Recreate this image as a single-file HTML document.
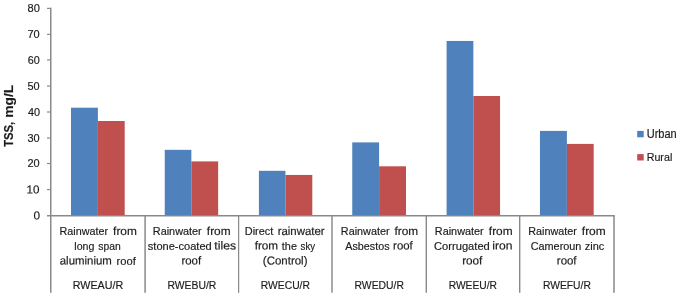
<!DOCTYPE html>
<html><head><meta charset="utf-8"><title>TSS chart</title>
<style>
html,body{margin:0;padding:0;background:#fff;}
svg{display:block;}
text{font-family:"Liberation Sans",sans-serif;fill:#1c1c1c;stroke:#1c1c1c;stroke-width:0.18px;}
</style></head><body>
<svg width="685" height="295" viewBox="0 0 685 295">
<rect width="685" height="295" fill="#fff"/>
<rect x="71.00" y="107.70" width="26.90" height="107.30" fill="#4F81BD"/>
<rect x="97.90" y="121.00" width="26.80" height="94.00" fill="#C0504D"/>
<rect x="164.75" y="149.85" width="26.60" height="65.15" fill="#4F81BD"/>
<rect x="191.35" y="161.40" width="26.80" height="53.60" fill="#C0504D"/>
<rect x="258.90" y="170.80" width="26.55" height="44.20" fill="#4F81BD"/>
<rect x="285.45" y="174.95" width="26.85" height="40.05" fill="#C0504D"/>
<rect x="352.25" y="142.40" width="26.85" height="72.60" fill="#4F81BD"/>
<rect x="379.10" y="166.30" width="26.90" height="48.70" fill="#C0504D"/>
<rect x="446.60" y="40.95" width="26.75" height="174.05" fill="#4F81BD"/>
<rect x="473.35" y="96.00" width="26.70" height="119.00" fill="#C0504D"/>
<rect x="539.95" y="130.90" width="26.95" height="84.10" fill="#4F81BD"/>
<rect x="566.90" y="143.90" width="26.80" height="71.10" fill="#C0504D"/>
<g stroke="#898989" stroke-width="1.5" fill="none">
<path d="M50.75 7.8V292.85"/>
<path d="M145.10 215.75V292.85" stroke-width="1.50"/>
<path d="M238.60 215.75V292.85" stroke-width="1.25"/>
<path d="M332.00 215.75V292.85" stroke-width="1.45"/>
<path d="M426.30 215.75V292.85" stroke-width="1.40"/>
<path d="M519.70 215.75V292.85" stroke-width="1.40"/>
<path d="M614.00 215.75V292.85" stroke-width="1.50"/>
<path d="M47 215.75H614.75"/>
<path d="M47 189.55H50.90" stroke-width="1.2"/>
<path d="M47 163.50H50.90" stroke-width="1.2"/>
<path d="M47 138.05H50.90" stroke-width="1.2"/>
<path d="M47 112.00H50.90" stroke-width="1.2"/>
<path d="M47 86.00H50.90" stroke-width="1.2"/>
<path d="M47 59.90H50.90" stroke-width="1.2"/>
<path d="M47 34.35H50.90" stroke-width="1.2"/>
<path d="M47 8.40H50.90" stroke-width="1.2"/>
</g>
<g font-size="13.7" font-weight="bold" fill="#000" stroke="#000" stroke-width="0.2">
<text transform="translate(13.1 146.75) rotate(-90)" textLength="25.00" lengthAdjust="spacingAndGlyphs">TSS,</text>
<text transform="translate(13.1 117.75) rotate(-90)" textLength="32.90" lengthAdjust="spacingAndGlyphs">mg/L</text>
</g>
<text transform="matrix(1 0.0005 0 1 59.49 235.10)" font-size="11.6" textLength="48.53" lengthAdjust="spacingAndGlyphs">Rainwater</text>
<text transform="matrix(1 0.0005 0 1 113.08 235.10)" font-size="11.6" textLength="23.75" lengthAdjust="spacingAndGlyphs">from</text>
<text transform="matrix(1 0.0005 0 1 74.31 249.50)" font-size="11.6" textLength="20.01" lengthAdjust="spacingAndGlyphs">long</text>
<text transform="matrix(1 0.0005 0 1 98.35 249.50)" font-size="11.6" textLength="22.41" lengthAdjust="spacingAndGlyphs">span</text>
<text transform="matrix(1 0.0005 0 1 59.75 264.50)" font-size="11.6" textLength="52.11" lengthAdjust="spacingAndGlyphs">aluminium</text>
<text transform="matrix(1 0.0005 0 1 116.59 264.50)" font-size="11.6" textLength="19.24" lengthAdjust="spacingAndGlyphs">roof</text>
<text transform="matrix(1 0.0005 0 1 72.79 288.50)" font-size="11.6" textLength="50.39" lengthAdjust="spacingAndGlyphs">RWEAU/R</text>
<text transform="matrix(1 0.0005 0 1 152.81 235.10)" font-size="11.6" textLength="48.87" lengthAdjust="spacingAndGlyphs">Rainwater</text>
<text transform="matrix(1 0.0005 0 1 206.84 235.10)" font-size="11.6" textLength="23.73" lengthAdjust="spacingAndGlyphs">from</text>
<text transform="matrix(1 0.0005 0 1 147.83 249.50)" font-size="11.6" textLength="63.91" lengthAdjust="spacingAndGlyphs">stone-coated</text>
<text transform="matrix(1 0.0005 0 1 214.32 249.50)" font-size="11.6" textLength="21.79" lengthAdjust="spacingAndGlyphs">tiles</text>
<text transform="matrix(1 0.0005 0 1 181.38 264.50)" font-size="11.6" textLength="19.69" lengthAdjust="spacingAndGlyphs">roof</text>
<text transform="matrix(1 0.0005 0 1 167.50 288.50)" font-size="11.6" textLength="48.83" lengthAdjust="spacingAndGlyphs">RWEBU/R</text>
<text transform="matrix(1 0.0005 0 1 244.78 235.10)" font-size="11.6" textLength="28.57" lengthAdjust="spacingAndGlyphs">Direct</text>
<text transform="matrix(1 0.0005 0 1 277.64 235.10)" font-size="11.6" textLength="46.97" lengthAdjust="spacingAndGlyphs">rainwater</text>
<text transform="matrix(1 0.0005 0 1 254.66 249.50)" font-size="11.6" textLength="23.49" lengthAdjust="spacingAndGlyphs">from</text>
<text transform="matrix(1 0.0005 0 1 281.85 249.50)" font-size="11.6" textLength="15.09" lengthAdjust="spacingAndGlyphs">the</text>
<text transform="matrix(1 0.0005 0 1 300.61 249.50)" font-size="11.6" textLength="14.47" lengthAdjust="spacingAndGlyphs">sky</text>
<text transform="matrix(1 0.0005 0 1 262.82 264.50)" font-size="11.6" textLength="44.68" lengthAdjust="spacingAndGlyphs">(Control)</text>
<text transform="matrix(1 0.0005 0 1 260.82 288.50)" font-size="11.6" textLength="49.08" lengthAdjust="spacingAndGlyphs">RWECU/R</text>
<text transform="matrix(1 0.0005 0 1 340.83 235.10)" font-size="11.6" textLength="48.80" lengthAdjust="spacingAndGlyphs">Rainwater</text>
<text transform="matrix(1 0.0005 0 1 394.50 235.10)" font-size="11.6" textLength="23.67" lengthAdjust="spacingAndGlyphs">from</text>
<text transform="matrix(1 0.0005 0 1 345.29 249.50)" font-size="11.6" textLength="44.23" lengthAdjust="spacingAndGlyphs">Asbestos</text>
<text transform="matrix(1 0.0005 0 1 393.12 249.50)" font-size="11.6" textLength="19.57" lengthAdjust="spacingAndGlyphs">roof</text>
<text transform="matrix(1 0.0005 0 1 354.55 288.50)" font-size="11.6" textLength="49.34" lengthAdjust="spacingAndGlyphs">RWEDU/R</text>
<text transform="matrix(1 0.0005 0 1 434.81 235.10)" font-size="11.6" textLength="48.86" lengthAdjust="spacingAndGlyphs">Rainwater</text>
<text transform="matrix(1 0.0005 0 1 488.84 235.10)" font-size="11.6" textLength="23.73" lengthAdjust="spacingAndGlyphs">from</text>
<text transform="matrix(1 0.0005 0 1 434.05 249.50)" font-size="11.6" textLength="55.77" lengthAdjust="spacingAndGlyphs">Corrugated</text>
<text transform="matrix(1 0.0005 0 1 492.31 249.50)" font-size="11.6" textLength="20.16" lengthAdjust="spacingAndGlyphs">iron</text>
<text transform="matrix(1 0.0005 0 1 462.13 264.50)" font-size="11.6" textLength="20.23" lengthAdjust="spacingAndGlyphs">roof</text>
<text transform="matrix(1 0.0005 0 1 448.71 288.50)" font-size="11.6" textLength="48.25" lengthAdjust="spacingAndGlyphs">RWEEU/R</text>
<text transform="matrix(1 0.0005 0 1 528.30 235.10)" font-size="11.6" textLength="48.60" lengthAdjust="spacingAndGlyphs">Rainwater</text>
<text transform="matrix(1 0.0005 0 1 581.83 235.10)" font-size="11.6" textLength="23.88" lengthAdjust="spacingAndGlyphs">from</text>
<text transform="matrix(1 0.0005 0 1 530.68 249.50)" font-size="11.6" textLength="50.70" lengthAdjust="spacingAndGlyphs">Cameroun</text>
<text transform="matrix(1 0.0005 0 1 584.85 249.50)" font-size="11.6" textLength="19.44" lengthAdjust="spacingAndGlyphs">zinc</text>
<text transform="matrix(1 0.0005 0 1 556.81 264.50)" font-size="11.6" textLength="19.75" lengthAdjust="spacingAndGlyphs">roof</text>
<text transform="matrix(1 0.0005 0 1 542.93 288.50)" font-size="11.6" textLength="47.94" lengthAdjust="spacingAndGlyphs">RWEFU/R</text>
<text transform="matrix(1 0.0005 0 1 646.71 137.60)" font-size="12.0" textLength="30.02" lengthAdjust="spacingAndGlyphs">Urban</text>
<text transform="matrix(1 0.0005 0 1 646.64 160.90)" font-size="11.6" textLength="25.67" lengthAdjust="spacingAndGlyphs">Rural</text>
<text transform="matrix(1 0.0005 0 1 33.55 219.45)" font-size="11.6" textLength="6.57" lengthAdjust="spacingAndGlyphs">0</text>
<text transform="matrix(1 0.0005 0 1 26.61 193.45)" font-size="11.6" textLength="12.95" lengthAdjust="spacingAndGlyphs">10</text>
<text transform="matrix(1 0.0005 0 1 27.48 167.40)" font-size="11.6" textLength="12.17" lengthAdjust="spacingAndGlyphs">20</text>
<text transform="matrix(1 0.0005 0 1 27.41 141.95)" font-size="11.6" textLength="12.20" lengthAdjust="spacingAndGlyphs">30</text>
<text transform="matrix(1 0.0005 0 1 27.98 115.90)" font-size="11.6" textLength="12.08" lengthAdjust="spacingAndGlyphs">40</text>
<text transform="matrix(1 0.0005 0 1 27.50 89.90)" font-size="11.6" textLength="12.14" lengthAdjust="spacingAndGlyphs">50</text>
<text transform="matrix(1 0.0005 0 1 27.67 63.80)" font-size="11.6" textLength="12.04" lengthAdjust="spacingAndGlyphs">60</text>
<text transform="matrix(1 0.0005 0 1 27.42 38.25)" font-size="11.6" textLength="12.21" lengthAdjust="spacingAndGlyphs">70</text>
<text transform="matrix(1 0.0005 0 1 27.58 12.30)" font-size="11.6" textLength="12.32" lengthAdjust="spacingAndGlyphs">80</text>
<rect x="637.2" y="130.9" width="6.5" height="6.4" fill="#4F81BD"/>
<rect x="637.2" y="154.1" width="6.5" height="6.4" fill="#C0504D"/>
</svg>
</body></html>
